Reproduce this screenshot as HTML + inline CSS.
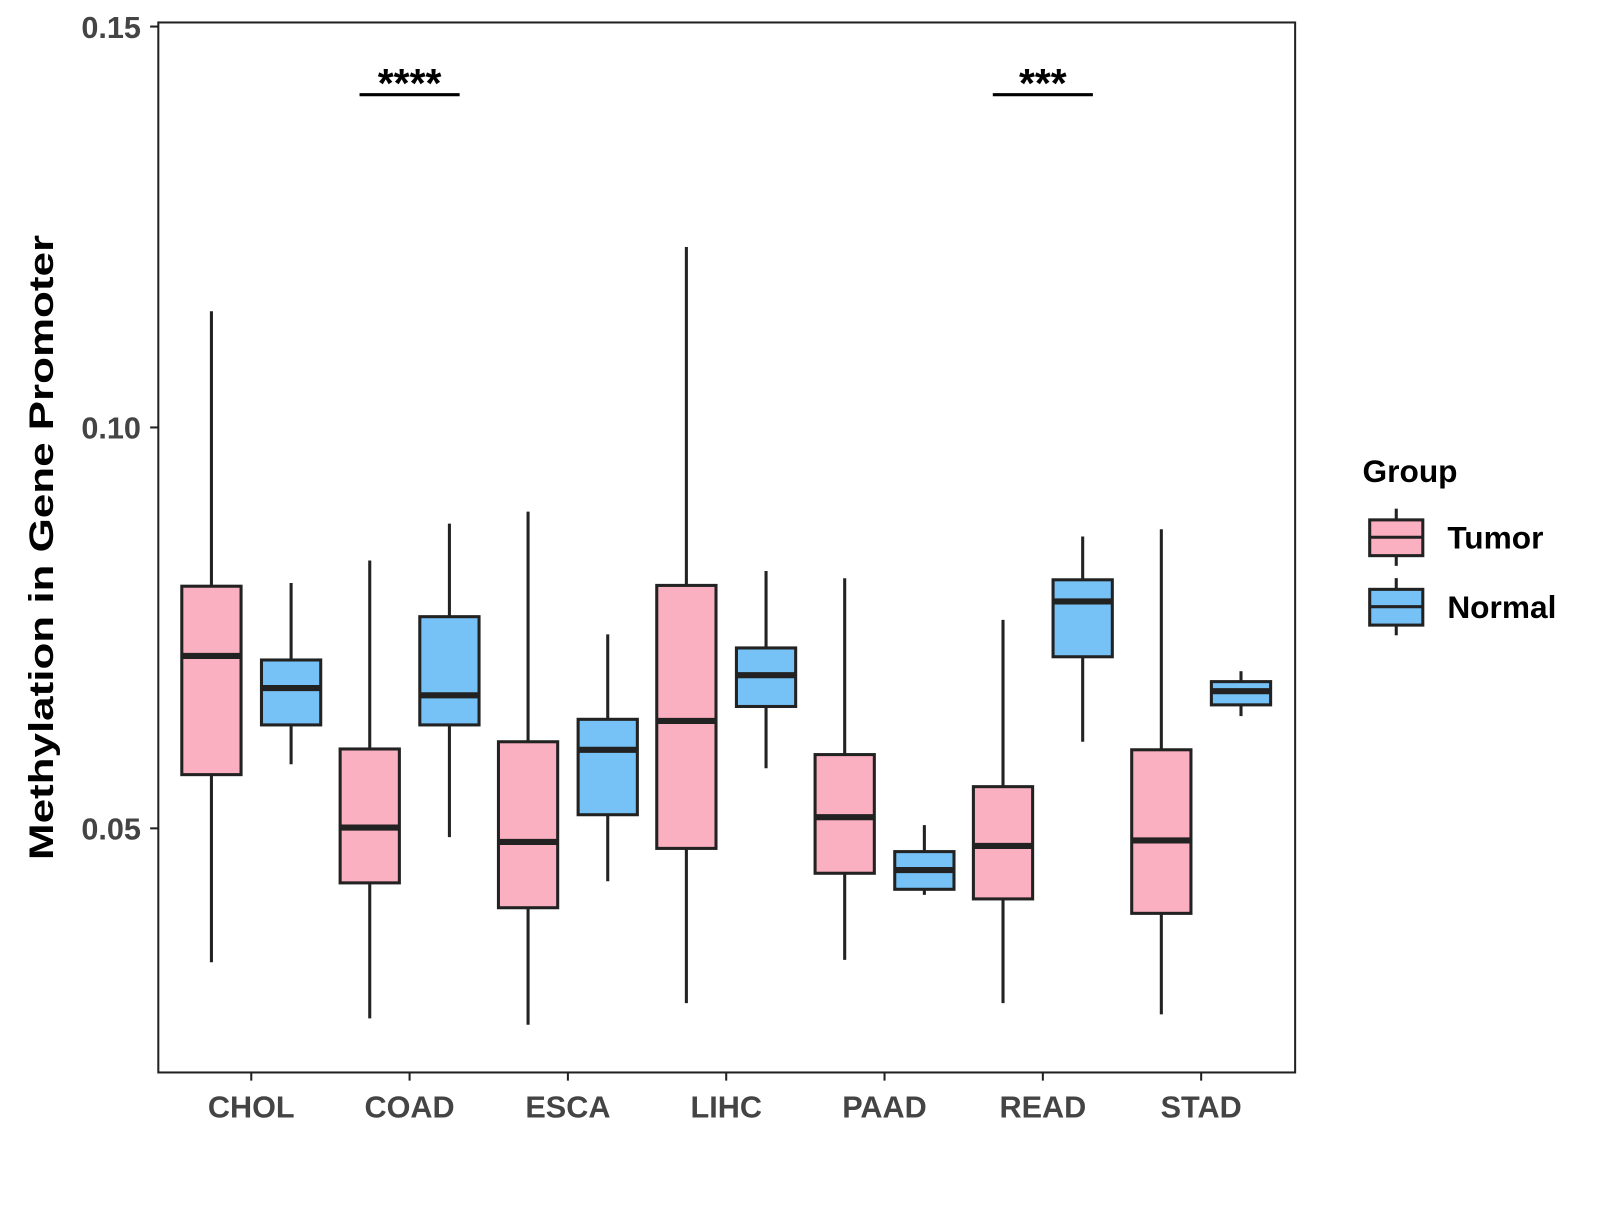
<!DOCTYPE html>
<html><head><meta charset="utf-8"><style>
html,body{margin:0;padding:0;background:#fff;}
svg text{font-family:"Liberation Sans",Arial,sans-serif;font-weight:bold;}
</style></head><body>
<svg id="chart" width="1600" height="1200" viewBox="0 0 1600 1200" xmlns="http://www.w3.org/2000/svg">
<rect width="1600" height="1200" fill="#fff"/>
<g transform="scale(1.0214)">
<g id="boxes"></g>
<rect x="155" y="22" width="1113" height="1028" fill="none" stroke="#222" stroke-width="2"/>
<g id="axes"></g>
<text transform="translate(52,536) rotate(-90)" text-anchor="middle" font-size="34" fill="#000" textLength="612" lengthAdjust="spacingAndGlyphs">Methylation in Gene Promoter</text>
<g>
<text x="1334" y="472" font-size="31" fill="#000">Group</text>
<g>
<line x1="1367" y1="498" x2="1367" y2="554" stroke="#222" stroke-width="3"/>
<rect x="1341" y="509" width="52" height="35" fill="#fbb0c1" stroke="#222" stroke-width="3"/>
<line x1="1341" y1="526" x2="1393" y2="526" stroke="#222" stroke-width="3"/>
<text x="1417" y="537" font-size="31" fill="#000">Tumor</text></g>
<g>
<line x1="1367" y1="566" x2="1367" y2="622" stroke="#222" stroke-width="3"/>
<rect x="1341" y="577" width="52" height="35" fill="#76c2f6" stroke="#222" stroke-width="3"/>
<line x1="1341" y1="594" x2="1393" y2="594" stroke="#222" stroke-width="3"/>
<text x="1417" y="605" font-size="31" fill="#000">Normal</text></g>
</g>
</g>
</svg>
<script>
const categories=["CHOL","COAD","ESCA","LIHC","PAAD","READ","STAD"];
const tumorMin=[0.0333,0.0263,0.0255,0.0282,0.0336,0.0282,0.0268];
const tumorQ1=[0.0567,0.0432,0.0401,0.0475,0.0444,0.0412,0.0394];
const tumorMed=[0.0715,0.0501,0.0483,0.0634,0.0514,0.0478,0.0485];
const tumorQ3=[0.0802,0.0599,0.0608,0.0803,0.0592,0.0552,0.0598];
const tumorMax=[0.1145,0.0834,0.0895,0.1225,0.0812,0.0760,0.0873];
const normalMin=[0.0580,0.0489,0.0434,0.0575,0.0417,0.0608,0.0640];
const normalQ1=[0.0629,0.0629,0.0517,0.0652,0.0424,0.0714,0.0654];
const normalMed=[0.0675,0.0666,0.0598,0.0691,0.0448,0.0783,0.0671];
const normalQ3=[0.0710,0.0764,0.0636,0.0725,0.0471,0.0810,0.0683];
const normalMax=[0.0806,0.0880,0.0742,0.0821,0.0504,0.0864,0.0696];
const yTicks=[0.05,0.10,0.15];
const yTickLabels=["0.05","0.10","0.15"];
const sigCats=["COAD","READ"];
const sigLabels=["****","***"];
const sigY=[0.1415,0.1415];

const NS="http://www.w3.org/2000/svg";
const y=v=>26+(0.15-v)*7850;
const x=i=>246+i*155;
function mk(tag,attrs,parent){const e=document.createElementNS(NS,tag);for(const k in attrs)e.setAttribute(k,attrs[k]);parent.appendChild(e);return e;}
const gB=document.getElementById('boxes'),gA=document.getElementById('axes');
function box(cx,mn,q1,md,q3,mx,fill,name){
  const g=mk('g',{},gB);
  
  
  mk('line',{x1:cx,x2:cx,y1:y(mx),y2:y(mn),stroke:'#222','stroke-width':3},g);
  mk('rect',{x:cx-29,y:y(q3),width:58,height:y(q1)-y(q3),fill:fill,stroke:'#222','stroke-width':3},g);
  mk('line',{x1:cx-29,x2:cx+29,y1:y(md),y2:y(md),stroke:'#222','stroke-width':6},g);
}
categories.forEach((c,i)=>{
  box(x(i)-39,tumorMin[i],tumorQ1[i],tumorMed[i],tumorQ3[i],tumorMax[i],'#fbb0c1','box-tumor-'+c.toLowerCase());
  box(x(i)+39,normalMin[i],normalQ1[i],normalMed[i],normalQ3[i],normalMax[i],'#76c2f6','box-normal-'+c.toLowerCase());
  mk('line',{x1:x(i),x2:x(i),y1:1050,y2:1058,stroke:'#222','stroke-width':2},gA);
  const t=mk('text',{x:x(i),y:1094,'text-anchor':'middle','font-size':30,fill:'#444'},gA);
  
  
  t.textContent=c;
});
yTicks.forEach((v,i)=>{
  mk('line',{x1:147,x2:155,y1:y(v),y2:y(v),stroke:'#222','stroke-width':2},gA);
  const t=mk('text',{x:138,y:y(v)+11,'text-anchor':'end','font-size':30,fill:'#444'},gA);
  
  
  t.textContent=yTickLabels[i];
});
sigCats.forEach((c,i)=>{
  const xi=x(categories.indexOf(c));
  const l=mk('line',{x1:xi-49,x2:xi+49,y1:y(sigY[i]),y2:y(sigY[i]),stroke:'#000','stroke-width':3},gA);
  
  
  const t=mk('text',{x:xi,y:y(sigY[i])+2,'text-anchor':'middle','font-size':40,fill:'#000'},gA);
  
  
  t.textContent=sigLabels[i];
});
</script>
</body></html>
